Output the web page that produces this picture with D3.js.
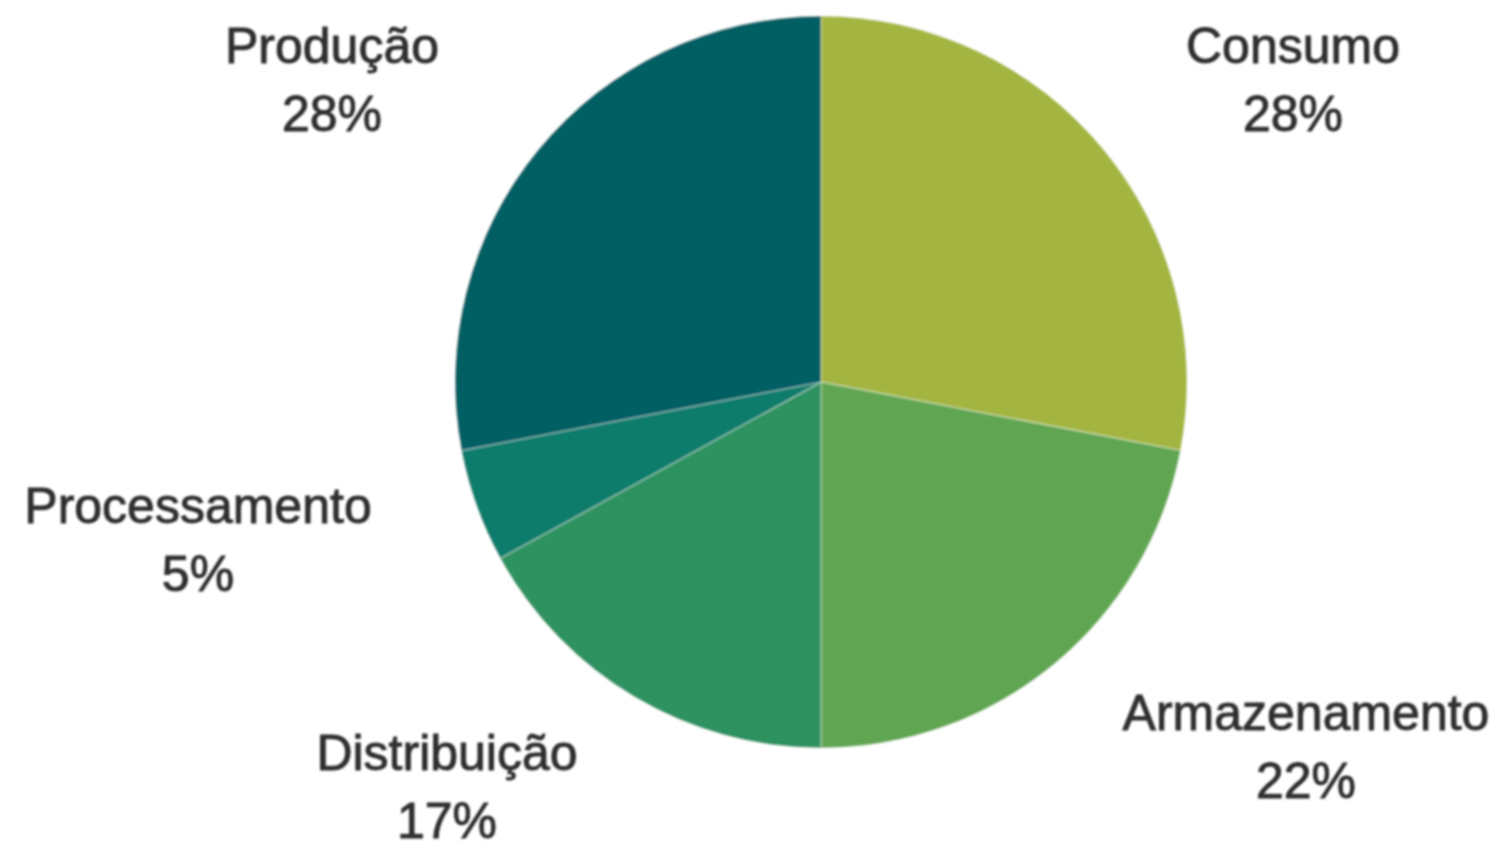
<!DOCTYPE html>
<html>
<head>
<meta charset="utf-8">
<script src="https://cdn.jsdelivr.net/npm/d3@7"></script>
<style>
  html, body { margin: 0; padding: 0; background: #fff; }
  svg { display: block; }
</style>
</head>
<body>
<div id="chart"></div>
<script>
// data
const categories = ["Consumo", "Armazenamento", "Distribuição", "Processamento", "Produção"];
const shares = [28, 22, 17, 5, 28];
const sliceColors = ["#a3b541", "#61a551", "#2e9160", "#0b7b6b", "#065e63"];

function init() {
  const width = 1501, height = 849;
  const cx = 821, cy = 382, radius = 366;

  // label anchors (center of the label block)
  const labelPos = {
    "Consumo": [1293, 63],
    "Armazenamento": [1306, 730],
    "Distribuição": [447, 770],
    "Processamento": [198, 523],
    "Produção": [332, 63]
  };

  const data = categories.map((c, i) => ({ name: c, value: shares[i], color: sliceColors[i] }));

  const svg = d3.select("#chart")
      .append("svg")
      .attr("width", width)
      .attr("height", height);

  const defs = svg.append("defs");
  defs.append("filter")
      .attr("id", "soft")
      .append("feGaussianBlur")
      .attr("stdDeviation", 0.8);

  const pie = d3.pie()
      .sort(null)
      .value(d => d.value);

  const arc = d3.arc()
      .innerRadius(0)
      .outerRadius(radius);

  const g = svg.append("g")
      .attr("transform", "translate(" + cx + "," + cy + ")")
      .attr("filter", "url(#soft)");

  g.selectAll(".slice")
      .data(pie(data))
      .enter().append("path")
      .attr("class", "slice")
      .attr("d", arc)
      .attr("fill", d => d.data.color)
      .attr("stroke", "rgba(255,255,255,0.3)")
      .attr("stroke-width", 1.5);

  const labels = svg.append("g")
      .attr("filter", "url(#soft)")
      .selectAll(".label")
      .data(data)
      .enter().append("text")
      .attr("class", "label")
      .attr("text-anchor", "middle")
      .attr("font-family", "'Liberation Sans', Arial, sans-serif")
      .attr("font-size", 50)
      .attr("fill", "#2e2e2e")
      .attr("stroke", "#2e2e2e")
      .attr("stroke-width", 0.9);

  labels.append("tspan")
      .attr("x", d => labelPos[d.name][0])
      .attr("y", d => labelPos[d.name][1])
      .text(d => d.name);

  labels.append("tspan")
      .attr("x", d => labelPos[d.name][0])
      .attr("y", d => labelPos[d.name][1] + 68)
      .text(d => d.value + "%");
}

window.onload = init;
</script>
</body>
</html>
